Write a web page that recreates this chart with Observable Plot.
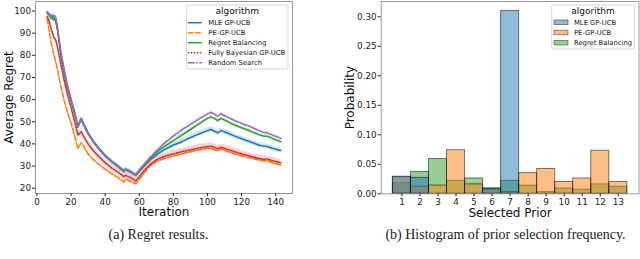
<!DOCTYPE html>
<html><head><meta charset="utf-8">
<script src="https://cdn.jsdelivr.net/npm/d3@7"></script>
<script src="https://cdn.jsdelivr.net/npm/@observablehq/plot@0.6"></script>
<style>
body{margin:0;background:#fff;}
#wrap{position:relative;width:640px;height:259px;overflow:hidden;font-family:"DejaVu Sans",sans-serif;}
.pl{position:absolute;top:0;}
.pl svg{overflow:visible;}
.cap{position:absolute;font-family:"Liberation Serif",serif;font-size:14px;color:#222;white-space:nowrap;transform:translateX(-50%);line-height:1;}
#leg{position:absolute;left:0;top:0;}
</style></head><body><div id="wrap"></div>
<script>
// ---------- Panel (a): average regret ----------
const algorithms = ["MLE GP-UCB", "PE-GP-UCB", "Regret Balancing", "Fully Bayesian GP-UCB", "Random Search"];
const iterations = [6, 7, 8, 10, 11, 12, 14, 16, 18, 20, 22, 24, 26, 28, 30, 33, 36, 40, 44, 48, 51, 52, 55, 58, 60, 63, 66, 70, 75, 80, 85, 90, 95, 100, 102, 104, 106, 108, 112, 116, 120, 125, 130, 133, 135, 138, 143];
const mleRegret = [99.2, 98.5, 98, 97, 95.5, 92, 80, 72, 65, 59.5, 54, 47.5, 51, 47.5, 44.5, 41, 38, 34.5, 31.8, 29.5, 27.5, 28.3, 27.2, 25.7, 27.5, 30, 32.5, 35, 37.5, 39.5, 41, 42.8, 44.5, 46, 46.5, 45.8, 45, 46, 44.8, 43.5, 42.3, 41, 39.5, 39, 38.8, 38, 37];
const peRegret = [96.5, 92, 87, 80, 77, 74, 66, 59.5, 54, 49.5, 44, 38, 40.5, 38, 35.5, 33, 31, 28.5, 26.5, 24.5, 22.8, 24, 23, 22, 24, 27, 29.8, 32, 33.5, 34.5, 35.5, 36.5, 37.3, 38, 38, 37.5, 36.8, 37.8, 36.5, 35.5, 34.7, 33.8, 32.8, 32.5, 32.5, 31.5, 30.5];
const rbRegret = [99.5, 98.5, 97, 96, 96, 92, 81, 73, 66, 60, 54.5, 48, 51.5, 48, 45, 41.3, 38.3, 34.8, 32, 29.7, 27.8, 28.5, 27.4, 26, 28, 30.5, 33, 36, 39, 41.5, 44, 46.5, 49, 51.5, 52.2, 51.5, 50.5, 51.5, 50, 48.5, 47.3, 45.8, 44.2, 43.5, 43.5, 42.5, 41];
const fbRegret = [97.5, 96, 93, 88, 87, 84, 76, 68.5, 62, 56.5, 50.5, 44, 45.5, 42.5, 40, 37, 34.5, 31.5, 29, 27, 25.2, 25.8, 24.8, 23.3, 25.2, 28, 30.5, 32.8, 34.5, 35.5, 36.5, 37.3, 38.2, 38.8, 39, 38.5, 37.8, 38.5, 37.5, 36.5, 35.5, 34.5, 33.5, 33, 33.2, 32.5, 31.5];
const rsRegret = [99.5, 98.5, 98, 98, 97.5, 93, 82, 73.5, 66, 60, 54.5, 48, 51.5, 48, 45, 41.3, 38.3, 34.8, 32, 29.7, 27.8, 28.5, 27.4, 26, 28, 30.8, 33.5, 36.8, 40.5, 43.5, 46.3, 48.8, 51.2, 53.5, 54.2, 53.5, 52.5, 53.5, 52, 50.5, 49.2, 47.8, 46, 45.2, 45, 44, 42.5];
const ciHalfWidth = [1.2, 0.8, 0.8, 1.5, 0.6];
const regretTicks = [20, 30, 40, 50, 60, 70, 80, 90, 100];
const iterationTicks = [0, 20, 40, 60, 80, 100, 120, 140];

// ---------- Panel (b): prior selection histogram ----------
const histAlgorithms = ["MLE GP-UCB", "PE-GP-UCB", "Regret Balancing"];
const priors = [1, 2, 3, 4, 5, 6, 7, 8, 9, 10, 11, 12, 13];
const mleProb = [0.029, 0.027, 0, 0, 0, 0.009, 0.310, 0, 0, 0, 0, 0, 0];
const peProb = [0.028, 0.012, 0.014, 0.074, 0.016, 0.007, 0.003, 0.035, 0.042, 0.020, 0.026, 0.073, 0.020];
const rbProb = [0.018, 0.037, 0.059, 0.022, 0.026, 0.009, 0.022, 0.014, 0.003, 0.009, 0.007, 0.016, 0.012];
const probTicks = [0, 0.05, 0.10, 0.15, 0.20, 0.25, 0.30];

const colors = ["#1f77b4", "#ff7f0e", "#2ca02c", "#d62728", "#9467bd"];
const dashes = [null, "5.5,2", null, "1.5,1.5", "7,1.5,1.5,1.5"];

const wrap = document.getElementById("wrap");

// ---- Panel (a)
const regretSeries = [mleRegret, peRegret, rbRegret, fbRegret, rsRegret];
const rows = [];
algorithms.forEach((name, k) => {
  iterations.forEach((t, i) => {
    const v = regretSeries[k][i];
    rows.push({name, t, v, lo: v - ciHalfWidth[k], hi: v + ciHalfWidth[k]});
  });
});
const lineMarks = [];
algorithms.forEach((name, k) => {
  const d = rows.filter(r => r.name === name);
  lineMarks.push(Plot.areaY(d, {x: "t", y1: "lo", y2: "hi", fill: colors[k], fillOpacity: 0.2}));
  lineMarks.push(Plot.line(d, {x: "t", y: "v", stroke: colors[k], strokeWidth: 1.5, strokeDasharray: dashes[k]}));
});
const plotA = Plot.plot({
  width: 300, height: 222,
  marginLeft: 35, marginRight: 8, marginTop: 1, marginBottom: 29,
  style: {fontFamily: "DejaVu Sans", fontSize: "8.8px", color: "#222", background: "transparent"},
  x: {domain: [-0.85, 149.85]},
  y: {domain: [17.6, 104.3]},
  marks: [
    ...lineMarks,
    Plot.frame({stroke: "#999", strokeWidth: 1}),
    Plot.axisX({ticks: iterationTicks, tickSize: 3, tickPadding: 2, label: null, fontSize: 8.8}),
    Plot.axisY({ticks: regretTicks, tickSize: 3, tickPadding: 1.5, label: null, fontSize: 8.8}),
    Plot.text(["Iteration"], {frameAnchor: "bottom", lineAnchor: "middle", dy: 19, fontSize: 12, fill: "#111"}),
    Plot.text(["Average Regret"], {frameAnchor: "left", textAnchor: "middle", lineAnchor: "middle", rotate: -90, dx: -26, fontSize: 12, fill: "#111"})
  ]
});
const divA = document.createElement("div");
divA.className = "pl"; divA.style.left = "0px";
divA.appendChild(plotA);
wrap.appendChild(divA);

// ---- Panel (b)
const probSeries = [mleProb, peProb, rbProb];
const bars = [];
histAlgorithms.forEach((name, k) => {
  priors.forEach((p, i) => {
    if (probSeries[k][i] > 0) bars.push({name, k, p, v: probSeries[k][i]});
  });
});
const barMarks = [2, 1, 0].map(k => Plot.rectY(bars.filter(b => b.k === k), {
  x1: d => d.p - 0.5, x2: d => d.p + 0.5, y: "v",
  fill: colors[k], fillOpacity: 0.5, stroke: "#000", strokeOpacity: 0.5, strokeWidth: 1
}));
const plotB = Plot.plot({
  width: 320, height: 222,
  marginLeft: 60.7, marginRight: 1.5, marginTop: 1, marginBottom: 28.7,
  style: {fontFamily: "DejaVu Sans", fontSize: "8.8px", color: "#222", background: "transparent"},
  x: {domain: [-0.15, 14.15]},
  y: {domain: [0, 0.3259]},
  marks: [
    ...barMarks,
    Plot.frame({stroke: "#999", strokeWidth: 1}),
    Plot.axisX({ticks: priors, tickSize: 3, tickPadding: 2, label: null, fontSize: 8.8}),
    Plot.axisY({ticks: probTicks, tickFormat: d3.format(".2f"), tickSize: 3, tickPadding: 1.5, label: null, fontSize: 8.8}),
    Plot.text(["Selected Prior"], {frameAnchor: "bottom", lineAnchor: "middle", dy: 19, fontSize: 12, fill: "#111"}),
    Plot.text(["Probability"], {frameAnchor: "left", textAnchor: "middle", lineAnchor: "middle", rotate: -90, dx: -30.7, fontSize: 12, fill: "#111"})
  ]
});
const divB = document.createElement("div");
divB.className = "pl"; divB.style.left = "320px";
divB.appendChild(plotB);
wrap.appendChild(divB);

// ---- Legends
const svg = d3.select(wrap).append("svg").attr("id", "leg").attr("width", 640).attr("height", 259)
  .style("font-family", "DejaVu Sans");
function legendBox(x0, y0, w, h) {
  svg.append("rect").attr("x", x0).attr("y", y0).attr("width", w).attr("height", h).attr("rx", 2)
    .attr("fill", "#fff").attr("fill-opacity", 0.8).attr("stroke", "#ccc").attr("stroke-width", 0.8);
}
// left legend
legendBox(186.7, 5, 101.3, 64);
svg.append("text").attr("x", 237.3).attr("y", 11).attr("dy", "0.35em").attr("text-anchor", "middle")
  .attr("font-size", 9).attr("fill", "#111").text("algorithm");
algorithms.forEach((name, k) => {
  const y = 22.7 + k * 10;
  svg.append("line").attr("x1", 187.8).attr("x2", 201.7).attr("y1", y).attr("y2", y)
    .attr("stroke", colors[k]).attr("stroke-width", 1.5).attr("stroke-dasharray", dashes[k]);
  svg.append("text").attr("x", 208.3).attr("y", y).attr("dy", "0.35em").attr("font-size", 6.8)
    .attr("fill", "#111").text(name);
});
// right legend
legendBox(551.7, 5, 82.6, 44);
svg.append("text").attr("x", 593).attr("y", 11).attr("dy", "0.35em").attr("text-anchor", "middle")
  .attr("font-size", 9).attr("fill", "#111").text("algorithm");
histAlgorithms.forEach((name, k) => {
  const y = 22.3 + k * 10.2;
  svg.append("rect").attr("x", 554).attr("y", y - 2.3).attr("width", 14).attr("height", 4.6)
    .attr("fill", colors[k]).attr("fill-opacity", 0.5).attr("stroke", "#000").attr("stroke-opacity", 0.5).attr("stroke-width", 0.8);
  svg.append("text").attr("x", 574).attr("y", y).attr("dy", "0.35em").attr("font-size", 6.8)
    .attr("fill", "#111").text(name);
});

// ---- Captions
function caption(text, cx, top) {
  const d = document.createElement("div");
  d.className = "cap"; d.style.left = cx + "px"; d.style.top = top + "px";
  d.textContent = text;
  wrap.appendChild(d);
}
caption("(a) Regret results.", 158.5, 228);
caption("(b) Histogram of prior selection frequency.", 505.5, 228);
</script></body></html>
